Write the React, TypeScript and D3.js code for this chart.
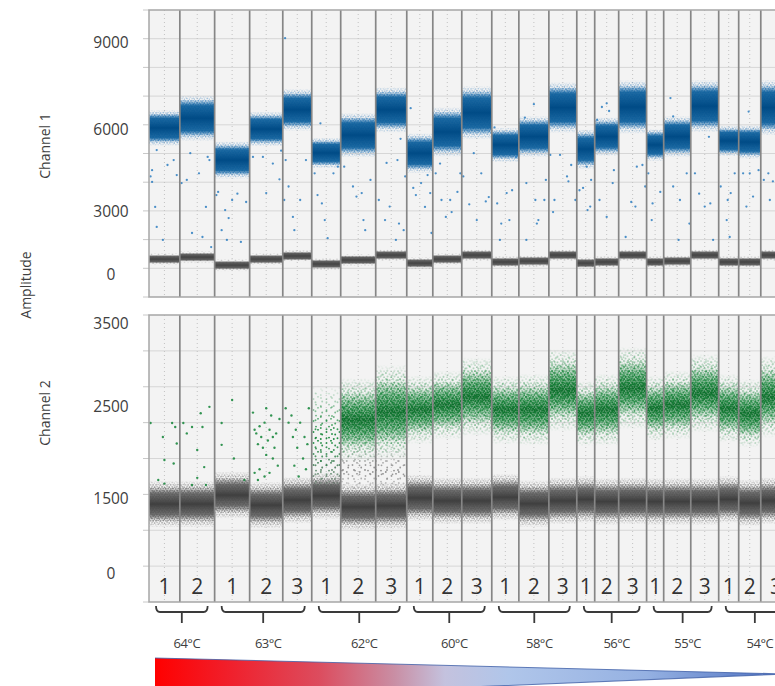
import React, { useEffect, useRef } from 'react';
import * as d3 from 'd3';

const WIDTH = 775;
const HEIGHT = 686;
const FONT = "'Open Sans', 'DejaVu Sans', sans-serif";

// annealing temperature groups, wells per group
const temps = ['64°C', '63°C', '62°C', '60°C', '58°C', '56°C', '55°C', '54°C'];
const wellsPerTemp = [2, 3, 3, 3, 3, 3, 3, 3];

// accepted droplets per well (x axis = event number, wells side by side)
const eventCounts = [14800, 16700, 16800, 15900, 13900, 13900, 16800, 14900, 12500, 13900, 14400, 13000,
  14400, 13400, 8600, 11500, 13400, 8200, 13000, 13400, 9600, 10600, 14500];

// channel 1: positive (blue) and negative (grey) clusters
const ch1PosMean = [5890, 6230, 4770, 5850, 6520, 5020, 5640, 6520, 5010, 5750, 6420, 5300,
  5590, 6600, 5150, 5590, 6620, 5300, 5590, 6650, 5440, 5400, 6600];
const ch1PosSd = [315, 400, 330, 305, 370, 270, 390, 400, 350, 435, 470, 305,
  360, 445, 350, 340, 470, 285, 360, 460, 270, 295, 490];
const ch1NegMean = [1320, 1390, 1110, 1320, 1430, 1150, 1290, 1460, 1180, 1320, 1460, 1220,
  1250, 1460, 1180, 1220, 1460, 1220, 1250, 1460, 1220, 1220, 1460];
const ch1NegSd = 100;
const ch1TickLabels = ['9000', '6000', '3000', '0'];
const ch1TickAt = [8850, 5820, 2960, 770];

// channel 1 rain: per well [position in well, amplitude]
const ch1Rain = [
  [[0.1, 4420], [0.25, 5120], [0.6, 4600], [0.8, 4770], [0.9, 4250], [0.1, 4010], [0.2, 3140], [0.25, 2440], [0.45, 1990], [0.05, 4200]],
  [[0.3, 5010], [0.8, 4880], [0.85, 4770], [0.55, 4310], [0.2, 4080], [0.05, 3970], [0.75, 3140], [0.35, 2230], [0.65, 2090], [0.9, 1740]],
  [[0.1, 3660], [0.05, 3550], [0.5, 3380], [0.9, 3310], [0.3, 3030], [0.4, 2750], [0.2, 2330], [0.35, 1990], [0.75, 1920], [0.65, 3600]],
  [[0.1, 4880], [0.4, 4880], [0.5, 3620], [0.7, 4650], [0.9, 4100], [0.95, 5100]],
  [[0.08, 9020], [0.1, 4770], [0.2, 3850], [0.35, 2790], [0.4, 2330], [0.8, 4770], [0.6, 3380], [0.05, 3380]],
  [[0.1, 4310], [0.3, 6050], [0.2, 3550], [0.35, 3260], [0.45, 2680], [0.55, 2050], [0.75, 4310], [0.9, 4540]],
  [[0.1, 4540], [0.35, 3850], [0.45, 3500], [0.6, 3620], [0.65, 2680], [0.7, 2330], [0.85, 4080]],
  [[0.1, 3380], [0.35, 4670], [0.3, 2680], [0.45, 3150], [0.65, 1990], [0.7, 4770], [0.8, 5510], [0.75, 2560], [0.9, 2330], [0.95, 4200]],
  [[0.15, 6580], [0.25, 3800], [0.35, 3550], [0.55, 3970], [0.8, 4250], [0.9, 3620], [0.7, 3140], [0.95, 2230]],
  [[0.1, 4310], [0.3, 3380], [0.6, 3380], [0.65, 2960], [0.85, 3660], [0.45, 2790], [0.95, 4310], [0.25, 4650]],
  [[0.05, 4200], [0.25, 3230], [0.5, 2680], [0.65, 4310], [0.8, 3330], [0.9, 3480], [0.4, 5010]],
  [[0.1, 5910], [0.2, 3260], [0.35, 2560], [0.55, 3620], [0.65, 2680], [0.75, 3720], [0.3, 1990], [0.9, 4880]],
  [[0.2, 6250], [0.25, 3970], [0.5, 6720], [0.55, 3380], [0.65, 2680], [0.85, 3380], [0.9, 4080], [0.6, 2560], [0.25, 1990]],
  [[0.05, 4950], [0.4, 4950], [0.15, 2960], [0.65, 4200], [0.7, 4030], [0.95, 3380], [0.8, 4600], [0.2, 3380]],
  [[0.15, 3720], [0.35, 3800], [0.6, 3030], [0.8, 4080], [0.55, 4540], [0.75, 3150]],
  [[0.1, 6170], [0.3, 6620], [0.5, 6750], [0.6, 6480], [0.2, 3380], [0.8, 4420], [0.75, 3970], [0.5, 2790]],
  [[0.25, 2090], [0.45, 3310], [0.6, 3150], [0.65, 4540], [0.85, 4600], [0.95, 3850]],
  [[0.1, 4310], [0.35, 3260], [0.3, 2680], [0.8, 3660]],
  [[0.25, 6930], [0.35, 6290], [0.35, 3850], [0.6, 3380], [0.85, 4310], [0.95, 2560], [0.55, 1990]],
  [[0.15, 4310], [0.3, 3600], [0.5, 3150], [0.65, 5580], [0.8, 1990], [0.7, 3260]],
  [[0.1, 3850], [0.4, 2680], [0.45, 3380], [0.6, 3620], [0.8, 4310], [0.55, 2090]],
  [[0.2, 4310], [0.45, 6460], [0.5, 4310], [0.65, 3500], [0.9, 4420], [0.35, 3150]],
  [[0.1, 4080], [0.25, 4310], [0.4, 4030], [0.6, 2330], [0.3, 3380]],
];

// channel 2: negative (grey) and positive (green) clusters
const ch2NegMean = [1365, 1365, 1490, 1350, 1420, 1480, 1325, 1340, 1450, 1410, 1410, 1460,
  1370, 1410, 1430, 1400, 1410, 1400, 1400, 1400, 1430, 1380, 1410];
const ch2NegSd = 150;
const ch2PosMean = [null, null, null, null, null, 2300, 2540, 2650, 2680, 2745, 2860, 2680,
  2680, 2950, 2630, 2680, 2980, 2700, 2745, 2910, 2700, 2630, 2860];
const ch2PosSd = [null, null, null, null, null, 330, 244, 275, 200, 200, 230, 200,
  210, 240, 190, 210, 240, 190, 200, 230, 200, 200, 240];
// 1 = scattered cloud, 3 = dense cluster
const ch2PosDensity = [0, 0, 0, 0, 0, 1, 3, 3, 3, 3, 3, 3, 3, 3, 3, 3, 3, 3, 3, 3, 3, 3, 3];
// intermediate grey droplets at high temperature: [well, amplitude]
const ch2Mid = [[5, 1880], [6, 1850], [7, 1820]];
const ch2MidSd = 180;
const ch2TickLabels = ['3500', '2500', '1500', '0'];
const ch2TickAt = [3875, 2718, 1435, 390];

// channel 2 green rain in the hottest wells: [well, position in well, amplitude]
const ch2Rain = [
  [0, 0.05, 2495], [0, 0.3, 1700], [0, 0.45, 2300], [0, 0.5, 1980], [0, 0.75, 2495], [0, 0.85, 2440], [0, 0.9, 2210], [0, 0.8, 1930], [0, 0.5, 1650],
  [1, 0.1, 2495], [1, 0.2, 2350], [1, 0.35, 2440], [1, 0.5, 2120], [1, 0.6, 2630], [1, 0.65, 2440], [1, 0.7, 1880], [1, 0.85, 2720], [1, 0.75, 1630], [1, 0.35, 1630], [1, 0.5, 1730],
  [2, 0.2, 2495], [2, 0.5, 2815], [2, 0.2, 2190], [2, 0.55, 2000], [2, 0.85, 1700],
  [3, 0.1, 2640], [3, 0.15, 2400], [3, 0.2, 2350], [3, 0.25, 2200], [3, 0.3, 2450], [3, 0.35, 2300], [3, 0.4, 2150], [3, 0.45, 2500],
  [3, 0.5, 2050], [3, 0.55, 2250], [3, 0.6, 2400], [3, 0.65, 2600], [3, 0.7, 2000], [3, 0.75, 2150], [3, 0.8, 2350], [3, 0.85, 1900],
  [3, 0.15, 1800], [3, 0.3, 1850], [3, 0.45, 1750], [3, 0.6, 1800], [3, 0.9, 2550], [3, 0.25, 1700], [3, 0.7, 2300], [3, 0.5, 2700],
  [4, 0.1, 2700], [4, 0.2, 2500], [4, 0.3, 2600], [4, 0.35, 2300], [4, 0.45, 2400], [4, 0.5, 2150], [4, 0.6, 2500], [4, 0.7, 2000],
  [4, 0.75, 2300], [4, 0.85, 2200], [4, 0.9, 2700], [4, 0.4, 1900], [4, 0.55, 1750], [4, 0.8, 1850],
];

const App = () => {
  const svgRef = useRef<SVGSVGElement>(null);

  useEffect(() => {
    const svg = d3.select(svgRef.current);
    svg.selectAll('*').remove();

    const starts = Array.from(d3.cumsum([0, ...eventCounts]));
    const total = starts[starts.length - 1];
    const x = d3.scaleLinear().domain([0, total]).range([149, 791]);
    const y1 = d3.scaleLinear().domain([0, 10000]).range([297, 10]);
    const y2 = d3.scaleLinear().domain([0, 4000]).range([602, 315]);
    const wells = eventCounts.map((_, i) => ({ i, x0: x(starts[i]), x1: x(starts[i + 1]) }));

    const defs = svg.append('defs');
    const dotPattern = (id, w, h, pts, color, r) => {
      const p = defs.append('pattern').attr('id', id).attr('patternUnits', 'userSpaceOnUse')
        .attr('width', w).attr('height', h);
      pts.forEach(([cx, cy]) => p.append('circle').attr('cx', cx).attr('cy', cy).attr('r', r).attr('fill', color));
    };
    const vGrad = (id, stops) => {
      const gr = defs.append('linearGradient').attr('id', id).attr('x1', 0).attr('y1', 0).attr('x2', 0).attr('y2', 1);
      stops.forEach(([o, c, op]) => gr.append('stop').attr('offset', o).attr('stop-color', c).attr('stop-opacity', op));
    };
    // dot tiles of different sizes so the overlap reads as scatter
    const dense = [[0.8, 0.9], [3.2, 0.4], [2.1, 2.6], [4.4, 3.1]];
    const med = [[1, 1], [4.5, 2.2], [2.5, 4.6], [6.1, 5.2]];
    const sparse = [[2, 2], [7.5, 6.3]];
    const odd = [[1.5, 3], [6, 0.8], [10.2, 5.5], [4, 8.6], [8.8, 10]];
    dotPattern('blueA', 5, 4, dense, '#1f6fb3', 0.8);
    dotPattern('blueB', 7, 6, med, '#2a7bbf', 0.85);
    dotPattern('greyA', 5, 4, dense, '#5c5c5c', 0.8);
    dotPattern('greyB', 7, 6, med, '#6e6e6e', 0.85);
    dotPattern('greyS', 11, 9, sparse, '#8a8a8a', 0.9);
    dotPattern('greyO', 13, 11, odd, '#8c8c8c', 0.9);
    dotPattern('greenA', 7, 6, med, '#128636', 1.0);
    dotPattern('greenB', 11, 9, sparse, '#1b8c3e', 0.95);
    dotPattern('greenC', 5, 4, dense, '#0e7a31', 0.85);
    dotPattern('greenO', 13, 11, odd, '#17873b', 0.95);

    vGrad('blueCore', [[0, '#1d6fb0', 0], [0.16, '#14649f', 0.95], [0.5, '#004b86', 1], [0.84, '#14649f', 0.95], [1, '#1d6fb0', 0]]);
    vGrad('greyCore1', [[0, '#6a6a6a', 0], [0.22, '#585858', 0.95], [0.5, '#444444', 1], [0.78, '#585858', 0.95], [1, '#6a6a6a', 0]]);
    vGrad('greyCore2', [[0, '#727272', 0], [0.2, '#616161', 0.9], [0.5, '#3f3f3f', 1], [0.8, '#616161', 0.9], [1, '#727272', 0]]);
    vGrad('greenCore', [[0, '#16883a', 0], [0.25, '#128035', 0.42], [0.5, '#0a6a28', 0.7], [0.75, '#128035', 0.42], [1, '#16883a', 0]]);
    vGrad('fadeGrad', [[0, '#fff', 0], [0.3, '#fff', 1], [0.7, '#fff', 1], [1, '#fff', 0]]);
    vGrad('softGrad', [[0, '#fff', 0], [0.5, '#fff', 1], [1, '#fff', 0]]);
    defs.append('mask').attr('id', 'fade').attr('maskContentUnits', 'objectBoundingBox')
      .append('rect').attr('width', 1).attr('height', 1).attr('fill', 'url(#fadeGrad)');
    defs.append('mask').attr('id', 'soft').attr('maskContentUnits', 'objectBoundingBox')
      .append('rect').attr('width', 1).attr('height', 1).attr('fill', 'url(#softGrad)');

    const band = (g, w, y, mean, sd, fills, k, core, coreK, mask) => {
      fills.forEach(f => g.append('rect')
        .attr('x', w.x0).attr('width', w.x1 - w.x0)
        .attr('y', y(mean + k * sd)).attr('height', y(mean - k * sd) - y(mean + k * sd))
        .attr('fill', `url(#${f})`).attr('mask', `url(#${mask})`));
      if (core) g.append('rect')
        .attr('x', w.x0).attr('width', w.x1 - w.x0)
        .attr('y', y(mean + coreK * sd)).attr('height', y(mean - coreK * sd) - y(mean + coreK * sd))
        .attr('fill', `url(#${core})`);
    };

    const panel = (id, y, step, max, draw) => {
      const [bottom, top] = y.range();
      const [left, right] = x.range();
      defs.append('clipPath').attr('id', id).append('rect')
        .attr('x', left).attr('y', top).attr('width', right - left).attr('height', bottom - top);
      const g = svg.append('g');
      g.append('rect').attr('x', left).attr('y', top).attr('width', right - left).attr('height', bottom - top)
        .attr('fill', '#f3f3f3');
      const gridVals = d3.range(step, max, step);
      g.selectAll('.grid').data(gridVals).join('line')
        .attr('x1', left).attr('x2', right).attr('y1', d => y(d)).attr('y2', d => y(d))
        .attr('stroke', '#d6d6d6').attr('stroke-width', 1);
      g.selectAll('.tick').data([0, ...gridVals, max]).join('line')
        .attr('x1', left - 6).attr('x2', left).attr('y1', d => y(d)).attr('y2', d => y(d))
        .attr('stroke', '#c8c8c8').attr('stroke-width', 1);
      g.selectAll('.mid').data(wells).join('line')
        .attr('x1', d => (d.x0 + d.x1) / 2).attr('x2', d => (d.x0 + d.x1) / 2)
        .attr('y1', top).attr('y2', bottom)
        .attr('stroke', '#c2c2c2').attr('stroke-dasharray', '1 3');
      const body = g.append('g').attr('clip-path', `url(#${id})`);
      draw(body);
      body.selectAll('.sep').data(wells.slice(1)).join('line')
        .attr('x1', d => d.x0).attr('x2', d => d.x0).attr('y1', top).attr('y2', bottom)
        .attr('stroke', '#868686').attr('stroke-width', 1.7);
      g.append('rect').attr('x', left).attr('y', top).attr('width', right - left).attr('height', bottom - top)
        .attr('fill', 'none').attr('stroke', '#a6a6a6').attr('stroke-width', 1.5);
      return g;
    };

    // Channel 1
    panel('clip1', y1, 1000, 10000, (g) => {
      wells.forEach(w => {
        band(g, w, y1, ch1NegMean[w.i], ch1NegSd, ['greyB'], 2.3, 'greyCore1', 1.6, 'soft');
        band(g, w, y1, ch1PosMean[w.i], ch1PosSd[w.i], ['blueA', 'blueB'], 2.0, 'blueCore', 1.6, 'fade');
      });
      ch1Rain.forEach((pts, i) => {
        g.selectAll(null).data(pts).join('circle')
          .attr('cx', d => x(starts[i] + d[0] * eventCounts[i]))
          .attr('cy', d => y1(d[1]))
          .attr('r', 1.15).attr('fill', '#2b7cc0').attr('opacity', 0.85);
      });
    });

    // Channel 2
    const p2 = panel('clip2', y2, 500, 4000, (g) => {
      ch2Mid.forEach(([i, m]) => band(g, wells[i], y2, m, ch2MidSd, ['greyS', 'greyO'], 2.0, null, 0, 'soft'));
      wells.forEach(w => {
        band(g, w, y2, ch2NegMean[w.i], ch2NegSd, ['greyA', 'greyB'], 2.2, 'greyCore2', 1.6, 'fade');
      });
      wells.forEach(w => {
        const m = ch2PosMean[w.i];
        if (m == null) return;
        if (ch2PosDensity[w.i] >= 3) {
          band(g, w, y2, m, ch2PosSd[w.i], ['greenB', 'greenO', 'greenA'], 2.4, null, 0, 'soft');
          band(g, w, y2, m, ch2PosSd[w.i], ['greenC'], 1.7, 'greenCore', 1.5, 'soft');
        } else {
          band(g, w, y2, m, ch2PosSd[w.i], ['greenB', 'greenO'], 2.2, null, 0, 'soft');
        }
      });
      g.selectAll(null).data(ch2Rain).join('circle')
        .attr('cx', d => x(starts[d[0]] + d[1] * eventCounts[d[0]]))
        .attr('cy', d => y2(d[2]))
        .attr('r', 1.2).attr('fill', '#1d8a40').attr('opacity', 0.9);
    });

    // well numbers inside channel 2 panel
    const wellNo = wellsPerTemp.flatMap(n => d3.range(1, n + 1));
    p2.selectAll('.wn').data(wells).join('text')
      .attr('x', d => (d.x0 + d.x1) / 2).attr('y', 594)
      .attr('text-anchor', 'middle').attr('font-family', FONT).attr('font-size', 21)
      .attr('fill', '#333').text(d => wellNo[d.i]);

    // tick labels
    const tickText = (labels, at, y) => svg.append('g').selectAll('text').data(labels).join('text')
      .attr('x', 111).attr('y', (_, j) => y(at[j])).attr('dy', '0.35em')
      .attr('text-anchor', 'middle').attr('font-family', FONT).attr('font-size', 15.5)
      .attr('fill', '#404040').text(d => d);
    tickText(ch1TickLabels, ch1TickAt, y1);
    tickText(ch2TickLabels, ch2TickAt, y2);

    // axis titles
    const title = (t, cx, cy) => svg.append('text')
      .attr('transform', `translate(${cx},${cy}) rotate(-90)`)
      .attr('text-anchor', 'middle').attr('dy', '0.35em')
      .attr('font-family', FONT).attr('font-size', 14).attr('fill', '#404040').text(t);
    title('Channel 1', 45, 146);
    title('Amplitude', 26, 285);
    title('Channel 2', 45, 413);

    // temperature brackets
    const groupStart = Array.from(d3.cumsum([0, ...wellsPerTemp]));
    const bg = svg.append('g');
    temps.forEach((t, k) => {
      const a = x(starts[groupStart[k]]) + 7;
      const b = x(starts[groupStart[k + 1]]) - 7;
      const c = (a + b) / 2;
      bg.append('path')
        .attr('d', `M${a},606 Q${a},612 ${a + 4},612 L${b - 4},612 Q${b},612 ${b},606 M${c},612 L${c},623`)
        .attr('fill', 'none').attr('stroke', '#3a3a3a').attr('stroke-width', 1.8);
      bg.append('text').attr('x', c + 5).attr('y', 643).attr('dy', '0.35em')
        .attr('text-anchor', 'middle').attr('font-family', FONT).attr('font-size', 13)
        .attr('letter-spacing', -0.5).attr('fill', '#404040').text(t);
    });

    // temperature gradient wedge
    const wx0 = x.range()[0] + 6;
    const wx1 = x.range()[1] - 6;
    const hg = defs.append('linearGradient').attr('id', 'heat').attr('gradientUnits', 'userSpaceOnUse')
      .attr('x1', wx0).attr('x2', wx1).attr('y1', 0).attr('y2', 0);
    [[0, '#ff0000'], [0.12, '#f0202c'], [0.26, '#dc4c5e'], [0.38, '#c98ea4'], [0.46, '#c4c2de'],
      [0.56, '#b0c6ea'], [0.78, '#95b1e2'], [1, '#4d6fc0']]
      .forEach(([o, c]) => hg.append('stop').attr('offset', o).attr('stop-color', c));
    svg.append('path')
      .attr('d', `M${wx0},658 L${wx1},674 L${wx0},700 Z`)
      .attr('fill', 'url(#heat)');
    svg.append('path')
      .attr('d', `M${wx0},658 L${wx1},674 L${wx0},700`)
      .attr('fill', 'none').attr('stroke', '#3f5fa8').attr('stroke-width', 1.1).attr('stroke-opacity', 0.8);
  }, []);

  return (
    <svg ref={svgRef} width={WIDTH} height={HEIGHT} viewBox={`0 0 ${WIDTH} ${HEIGHT}`}
      style={{ position: 'absolute', left: 0, top: 0, background: '#fff', display: 'block' }} />
  );
};

export default App;
